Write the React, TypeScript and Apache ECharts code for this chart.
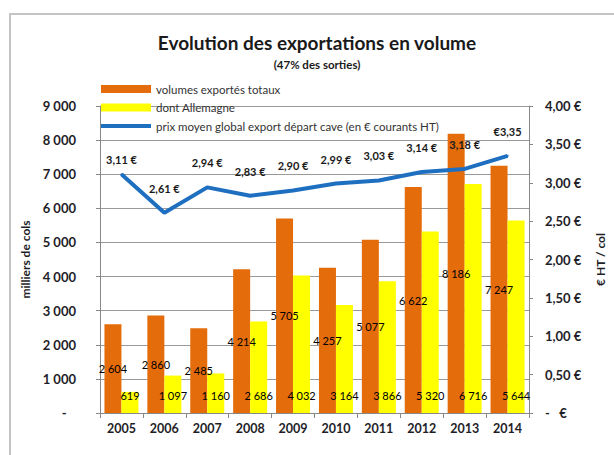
import React, { useEffect, useRef } from "react";
import * as echarts from "echarts";

const years = ["2005", "2006", "2007", "2008", "2009", "2010", "2011", "2012", "2013", "2014"];
const totaux = [2604, 2860, 2485, 4214, 5705, 4257, 5077, 6622, 8186, 7247];
const allemagne = [619, 1097, 1160, 2686, 4032, 3164, 3866, 5320, 6716, 5644];
const prix = [3.11, 2.61, 2.94, 2.83, 2.9, 2.99, 3.03, 3.14, 3.18, 3.35];

const NB = "\u00a0";
const fmtInt = (v: number) => {
  if (v === 0) return "-" + NB + NB + NB;
  const s = Math.round(v).toString();
  return s.replace(/\B(?=(\d{3})+(?!\d))/g, NB);
};
const fmtEur = (v: number) => {
  if (v === 0) return "-" + NB + NB + NB + "€";
  return v.toFixed(2).replace(".", ",") + NB + "€";
};

const FONT = "Lato";
const TXT = "#1e1e28";
const BLUE = "#1f6fc1";

export default function App() {
  const ref = useRef<HTMLDivElement>(null);
  useEffect(() => {
    if (!ref.current) return;
    const chart = echarts.init(ref.current, null, { renderer: "svg" });
    chart.setOption({
      animation: false,
      backgroundColor: "#ffffff",
      textStyle: { fontFamily: FONT },
      title: [
        {
          text: "Evolution des exportations en volume",
          left: 312,
          top: 28,
          textAlign: "center",
          textStyle: { fontFamily: FONT, fontSize: 19, fontWeight: "bold", color: "#1a1a1a" },
        },
        {
          text: "(47% des sorties)",
          left: 312,
          top: 53,
          textAlign: "center",
          textStyle: { fontFamily: FONT, fontSize: 11.5, fontWeight: "bold", color: "#1a1a1a" },
        },
      ],
      graphic: [
        {
          type: "rect",
          shape: { x: 10, y: 14, width: 700, height: 500 },
          style: { fill: "none", stroke: "#c4c4c4", lineWidth: 2 },
          silent: true,
        },
      ],
      legend: {
        orient: "vertical",
        left: 96,
        top: 78,
        itemWidth: 50,
        itemHeight: 8,
        itemGap: 6.5,
        textStyle: { fontFamily: FONT, fontSize: 11.5, color: "#333" },
        data: [
          { name: "volumes exportés totaux", icon: "rect" },
          { name: "dont Allemagne", icon: "rect" },
          {
            name: "prix moyen global export départ cave (en € courants HT)",
            icon: "path://M0,0 L50,0 L50,4 L0,4 Z",
          },
        ],
      },
      grid: { left: 100, right: 71, top: 106, bottom: 42 },
      xAxis: {
        type: "category",
        data: years,
        axisLine: { lineStyle: { color: "#888", width: 1 } },
        axisTick: { show: true, alignWithLabel: false, length: 5, lineStyle: { color: "#888" } },
        axisLabel: { fontFamily: FONT, fontSize: 12.5, fontWeight: "bold", color: TXT, margin: 9 },
      },
      yAxis: [
        {
          type: "value",
          min: 0,
          max: 9000,
          interval: 1000,
          name: "milliers de cols",
          nameLocation: "middle",
          nameGap: 66,
          nameTextStyle: { fontFamily: FONT, fontSize: 12, fontWeight: "bold", color: TXT },
          axisLine: { show: true, lineStyle: { color: "#888" } },
          axisTick: { show: true, length: 4, lineStyle: { color: "#888" } },
          splitLine: { show: true, lineStyle: { color: "#999", width: 1 } },
          axisLabel: { fontFamily: FONT, fontSize: 13, fontWeight: "bold", color: TXT, margin: 24, formatter: fmtInt },
        },
        {
          type: "value",
          min: 0,
          max: 4,
          interval: 0.5,
          position: "right",
          name: "€ HT / col",
          nameLocation: "middle",
          nameGap: 65,
          nameRotate: 90,
          nameTextStyle: { fontFamily: FONT, fontSize: 12, fontWeight: "bold", color: TXT },
          axisLine: { show: true, lineStyle: { color: "#888" } },
          axisTick: { show: true, length: 4, lineStyle: { color: "#888" } },
          splitLine: { show: false },
          axisLabel: { fontFamily: FONT, fontSize: 13, fontWeight: "bold", color: TXT, margin: 16, formatter: fmtEur },
        },
      ],
      series: [
        {
          name: "volumes exportés totaux",
          type: "bar",
          data: totaux,
          barWidth: 17,
          barGap: "0%",
          itemStyle: { color: "#e46c0a" },
          label: {
            show: true,
            position: "inside",
            fontFamily: FONT,
            fontSize: 11,
            color: "#000",
            formatter: (p: any) => fmtInt(p.value),
          },
        },
        {
          name: "dont Allemagne",
          type: "bar",
          data: allemagne,
          barWidth: 17,
          barGap: "0%",
          itemStyle: { color: "#ffff00" },
          label: {
            show: true,
            position: "insideBottom",
            distance: 12,
            fontFamily: FONT,
            fontSize: 11,
            color: "#000",
            formatter: (p: any) => fmtInt(p.value),
          },
        },
        {
          name: "prix moyen global export départ cave (en € courants HT)",
          type: "line",
          yAxisIndex: 1,
          data: prix.map((v, i) => (i === 0 ? { value: v, label: { distance: 8 } } : v)),
          symbol: "circle",
          symbolSize: 2,
          showSymbol: true,
          lineStyle: { color: BLUE, width: 4 },
          itemStyle: { color: BLUE },
          z: 5,
          label: {
            show: true,
            position: "top",
            distance: 18,
            fontFamily: FONT,
            fontSize: 11,
            fontWeight: "bold",
            color: "#1a1a1a",
            formatter: (p: any) => {
              const s = Number(p.value).toFixed(2).replace(".", ",");
              return p.dataIndex === prix.length - 1 ? "€" + s : s + NB + "€";
            },
          },
        },
      ],
    });
    return () => chart.dispose();
  }, []);
  return (
    <div
      ref={ref}
      style={{ position: "absolute", left: 0, top: 0, width: 614, height: 455 }}
    />
  );
}
